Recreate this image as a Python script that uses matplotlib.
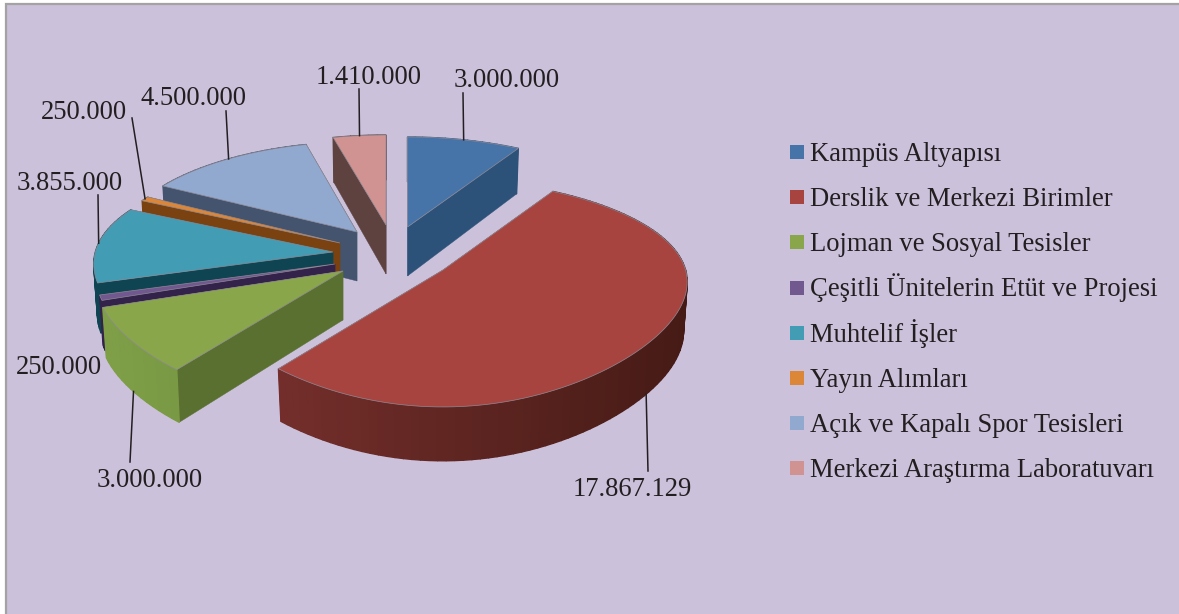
import numpy as np
import matplotlib
matplotlib.use("Agg")
import matplotlib.pyplot as plt
from matplotlib.patches import Polygon, Rectangle
from matplotlib.colors import to_rgb

categories = ["Kampüs Altyapısı", "Derslik ve Merkezi Birimler", "Lojman ve Sosyal Tesisler",
              "Çeşitli Ünitelerin Etüt ve Projesi", "Muhtelif İşler", "Yayın Alımları",
              "Açık ve Kapalı Spor Tesisleri", "Merkezi Araştırma Laboratuvarı"]
values = [3000000, 17867129, 3000000, 250000, 3855000, 250000, 4500000, 1410000]
value_labels = ["3.000.000", "17.867.129", "3.000.000", "250.000", "3.855.000", "250.000", "4.500.000", "1.410.000"]

top_colors = ["#4674A8", "#A84440", "#89A74A", "#71588F", "#429CB3", "#DC8638", "#92A9CF", "#D19392"]
radial_colors = ["#2D5279", "#6E2B28", "#5A7030", "#33224A", "#0F4552", "#7A4210", "#44546E", "#5D423F"]
arc_high = ["#2D5279", "#451A15", "#5F7B33", "#33224A", "#0F4552", "#7A4210", "#44546E", "#5D423F"]
arc_low = ["#2D5279", "#7E3330", "#80A048", "#33224A", "#0F4552", "#7A4210", "#44546E", "#5D423F"]

# per-slice placement of the exploded pie (figure pixels)
apex_x = [407.5, 443, 343, 335, 333, 340, 357, 386]
apex_y = [227, 270, 271, 264, 252, 243, 232, 225]
x_scale = [1, .99, 1.0, .97, .97, .95, .96, 1]
draw_order = [0, 7, 6, 5, 4, 3, 2, 1]

# label centre x and baseline y, end of leader line
label_pos = [(506.7, 86.7), (632, 496), (149.7, 486.7), (58.8, 374), (69.7, 190), (84, 119.3), (193.3, 105), (368.7, 84)]
leader_end = [(463, 93), (648, 471), (130, 462), None, (98, 195), (132, 118), (226, 111), (359, 89)]
leader_on_bottom = [False, True, True, False, False, False, False, False]

RX, RY, K, DEPTH, DEPTH_K = 245, 108.6, 0.207, 49, 0.09
KX_A, KX_B = 0.1242, 0.0753
BG, INK = "#CBC1DB", "#231F20"
FONT = "Liberation Serif"

fig = plt.figure(figsize=(11.79, 6.14), dpi=100, facecolor="white")
ax = fig.add_axes([0, 0, 1, 1])
ax.set_xlim(0, 1179)
ax.set_ylim(614, 0)
ax.axis("off")
ax.add_patch(Rectangle((6, 3.5), 1190, 630, facecolor=BG, edgecolor="#A3A3A3", lw=1.6, zorder=0))

total = sum(values)
edges = np.concatenate([[0], np.cumsum(values)]) / total * 2 * np.pi


def project(i, th, bottom=False):
    th = np.asarray(th, dtype=float)
    y = -np.cos(th)
    den = 1 - K * y
    den_x = 1 - KX_A * y + KX_B * y * y
    px = RX * x_scale[i] * np.sin(th) / den_x
    py = RY * y / den
    if bottom:
        px = px * 0.985
        py = py + DEPTH / (1 - DEPTH_K * y)
    return apex_x[i] + px, apex_y[i] + py


def mix(a, b, t):
    a, b = np.array(to_rgb(a)), np.array(to_rgb(b))
    return tuple(a + (b - a) * t)


z = 1
for i in draw_order:
    t = np.linspace(edges[i], edges[i + 1], max(3, int((edges[i + 1] - edges[i]) * 30)))
    xt, yt = project(i, t)
    xb, yb = project(i, t, True)
    ax_, ay_ = apex_x[i], apex_y[i]
    faces = []
    for k in (0, -1):
        pts = [(ax_, ay_), (xt[k], yt[k]), (xb[k], yb[k]), (ax_, ay_ + DEPTH)]
        faces.append((np.mean([p[1] for p in pts]), pts, radial_colors[i], 0.3))
    for k in range(len(t) - 1):
        pts = [(xt[k], yt[k]), (xt[k + 1], yt[k + 1]), (xb[k + 1], yb[k + 1]), (xb[k], yb[k])]
        frac = np.clip((np.sin(t[k]) + 1) / 2, 0, 1)
        faces.append((np.mean([p[1] for p in pts]), pts, mix(arc_low[i], arc_high[i], frac), 1.0))
    faces.sort(key=lambda f: f[0])
    for _, pts, col, lw in faces:
        ax.add_patch(Polygon(pts, closed=True, facecolor=col, edgecolor=col, lw=lw, zorder=z))
        z += 1
    ax.add_patch(Polygon(np.column_stack([np.r_[ax_, xt], np.r_[ay_, yt]]), closed=True,
                         facecolor=top_colors[i], edgecolor="#8F8A96", lw=0.5, zorder=z))
    z += 1

mids = (edges[:-1] + edges[1:]) / 2
for i, lab in enumerate(value_labels):
    ax.text(*label_pos[i], lab, family=FONT, fontsize=19.2, color=INK, ha="center", va="baseline", zorder=z)
    if leader_end[i] is not None:
        sx, sy = project(i, mids[i], leader_on_bottom[i])
        ax.plot([sx, leader_end[i][0]], [sy, leader_end[i][1]], color=INK, lw=1.1, zorder=z)

# legend rows
for i, (name, col) in enumerate(zip(categories, top_colors)):
    yc = 152 + 45.2 * i
    ax.add_patch(Rectangle((790, yc - 7), 14, 14, facecolor=col, edgecolor="none", zorder=z))
    ax.text(810, yc + 8.7, name, family=FONT, fontsize=19.2, color=INK, ha="left", va="baseline", zorder=z)

fig.savefig("out.png", dpi=100)
